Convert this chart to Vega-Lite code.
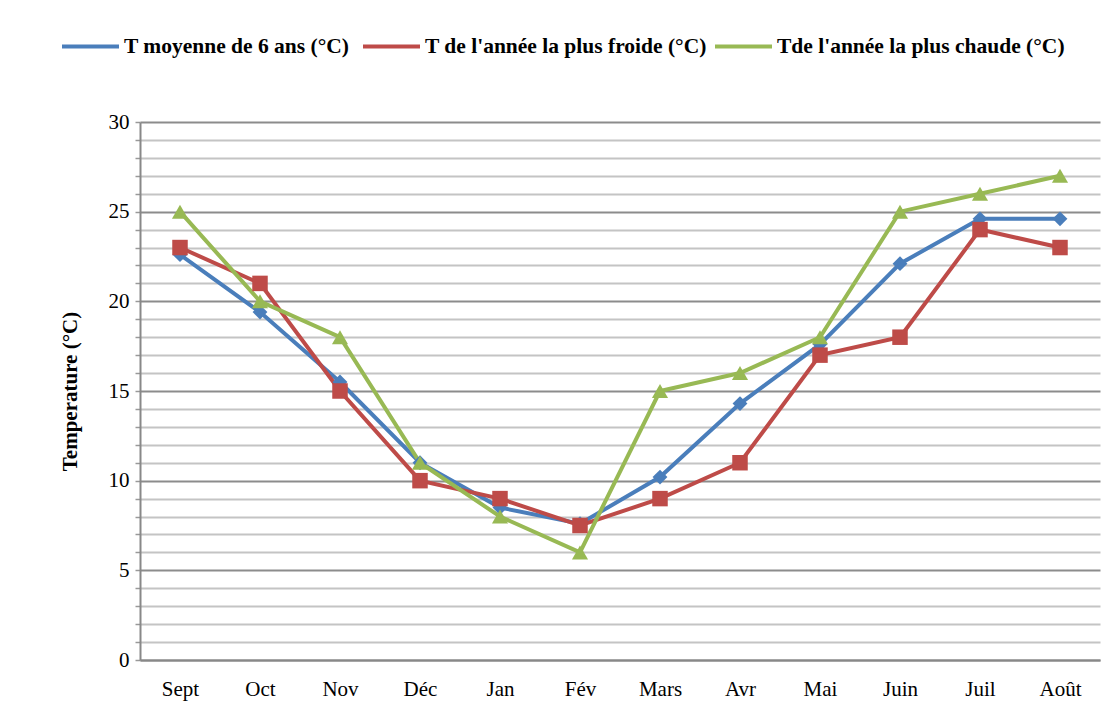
{
  "$schema": "https://vega.github.io/schema/vega-lite/v6.json",
  "width": 960,
  "height": 538,
  "autosize": {"type": "none"},
  "padding": {"left": 140, "top": 122, "right": 12, "bottom": 68},
  "background": "white",
  "config": {
    "view": {"stroke": null},
    "legend": {"labelFont": "Liberation Serif", "labelFontWeight": "bold", "labelFontSize": 21.5, "labelColor": "#000"}
  },
  "data": {"values": [
    {"mois": "Sept", "serie": "T  moyenne de 6 ans (°C)", "t": 22.6},
    {"mois": "Oct", "serie": "T  moyenne de 6 ans (°C)", "t": 19.4},
    {"mois": "Nov", "serie": "T  moyenne de 6 ans (°C)", "t": 15.5},
    {"mois": "Déc", "serie": "T  moyenne de 6 ans (°C)", "t": 11.0},
    {"mois": "Jan", "serie": "T  moyenne de 6 ans (°C)", "t": 8.5},
    {"mois": "Fév", "serie": "T  moyenne de 6 ans (°C)", "t": 7.6},
    {"mois": "Mars", "serie": "T  moyenne de 6 ans (°C)", "t": 10.2},
    {"mois": "Avr", "serie": "T  moyenne de 6 ans (°C)", "t": 14.3},
    {"mois": "Mai", "serie": "T  moyenne de 6 ans (°C)", "t": 17.6},
    {"mois": "Juin", "serie": "T  moyenne de 6 ans (°C)", "t": 22.1},
    {"mois": "Juil", "serie": "T  moyenne de 6 ans (°C)", "t": 24.6},
    {"mois": "Août", "serie": "T  moyenne de 6 ans (°C)", "t": 24.6},
    {"mois": "Sept", "serie": "T de l'année la plus froide (°C)", "t": 23},
    {"mois": "Oct", "serie": "T de l'année la plus froide (°C)", "t": 21},
    {"mois": "Nov", "serie": "T de l'année la plus froide (°C)", "t": 15},
    {"mois": "Déc", "serie": "T de l'année la plus froide (°C)", "t": 10},
    {"mois": "Jan", "serie": "T de l'année la plus froide (°C)", "t": 9},
    {"mois": "Fév", "serie": "T de l'année la plus froide (°C)", "t": 7.5},
    {"mois": "Mars", "serie": "T de l'année la plus froide (°C)", "t": 9},
    {"mois": "Avr", "serie": "T de l'année la plus froide (°C)", "t": 11},
    {"mois": "Mai", "serie": "T de l'année la plus froide (°C)", "t": 17},
    {"mois": "Juin", "serie": "T de l'année la plus froide (°C)", "t": 18},
    {"mois": "Juil", "serie": "T de l'année la plus froide (°C)", "t": 24},
    {"mois": "Août", "serie": "T de l'année la plus froide (°C)", "t": 23},
    {"mois": "Sept", "serie": "Tde l'année la plus chaude (°C)", "t": 25},
    {"mois": "Oct", "serie": "Tde l'année la plus chaude (°C)", "t": 20},
    {"mois": "Nov", "serie": "Tde l'année la plus chaude (°C)", "t": 18},
    {"mois": "Déc", "serie": "Tde l'année la plus chaude (°C)", "t": 11},
    {"mois": "Jan", "serie": "Tde l'année la plus chaude (°C)", "t": 8},
    {"mois": "Fév", "serie": "Tde l'année la plus chaude (°C)", "t": 6},
    {"mois": "Mars", "serie": "Tde l'année la plus chaude (°C)", "t": 15},
    {"mois": "Avr", "serie": "Tde l'année la plus chaude (°C)", "t": 16},
    {"mois": "Mai", "serie": "Tde l'année la plus chaude (°C)", "t": 18},
    {"mois": "Juin", "serie": "Tde l'année la plus chaude (°C)", "t": 25},
    {"mois": "Juil", "serie": "Tde l'année la plus chaude (°C)", "t": 26},
    {"mois": "Août", "serie": "Tde l'année la plus chaude (°C)", "t": 27}
  ]},
  "encoding": {
    "x": {
      "field": "mois", "type": "nominal",
      "sort": ["Sept", "Oct", "Nov", "Déc", "Jan", "Fév", "Mars", "Avr", "Mai", "Juin", "Juil", "Août"],
      "scale": {"type": "point", "padding": 0.5},
      "axis": {
        "title": null, "labelAngle": 0, "labelFont": "Liberation Serif", "labelFontSize": 21,
        "labelColor": "#000", "labelPadding": 18, "ticks": false, "domainColor": "#888", "domainWidth": 2,
        "grid": false
      }
    },
    "y": {
      "field": "t", "type": "quantitative",
      "scale": {"domain": [0, 30], "nice": false},
      "axis": {
        "title": "Temperature (°C)", "titleFont": "Liberation Serif", "titleFontSize": 21,
        "titleFontWeight": "bold", "titleColor": "#000", "titlePadding": 28,
        "values": [0,1,2,3,4,5,6,7,8,9,10,11,12,13,14,15,16,17,18,19,20,21,22,23,24,25,26,27,28,29,30],
        "labelExpr": "datum.value % 5 === 0 ? datum.label : ''",
        "labelFont": "Liberation Serif", "labelFontSize": 21, "labelColor": "#000", "labelPadding": 6,
        "tickSize": 5, "tickColor": "#999", "tickWidth": 1.5,
        "domainColor": "#888", "domainWidth": 2,
        "grid": true,
        "gridColor": {"condition": {"test": "datum.value % 5 === 0", "value": "#8c8c8c"}, "value": "#c4c4c4"},
        "gridWidth": 2
      }
    },
    "color": {
      "field": "serie", "type": "nominal",
      "sort": ["T  moyenne de 6 ans (°C)", "T de l'année la plus froide (°C)", "Tde l'année la plus chaude (°C)"],
      "scale": {"range": ["#4a7ebb", "#be4b48", "#98b954"]},
      "legend": {
        "title": null, "orient": "none", "legendX": -80, "legendY": -106, "direction": "horizontal",
        "symbolType": "stroke", "symbolStrokeWidth": 4, "symbolSize": 3249,
        "labelFont": "Liberation Serif", "labelFontSize": 21.5, "labelFontWeight": "bold", "labelColor": "#000",
        "labelLimit": 400, "columnPadding": 0, "labelOffset": 3
      }
    }
  },
  "layer": [
    {"mark": {"type": "line", "strokeWidth": 4}},
    {
      "mark": {"type": "point", "filled": true, "opacity": 1},
      "encoding": {
        "shape": {
          "field": "serie", "type": "nominal",
          "sort": ["T  moyenne de 6 ans (°C)", "T de l'année la plus froide (°C)", "Tde l'année la plus chaude (°C)"],
          "scale": {"range": ["diamond", "square", "triangle-up"]},
          "legend": null
        },
        "size": {
          "field": "serie", "type": "nominal",
          "sort": ["T  moyenne de 6 ans (°C)", "T de l'année la plus froide (°C)", "Tde l'année la plus chaude (°C)"],
          "scale": {"range": [220, 260, 240]},
          "legend": null
        }
      }
    }
  ]
}
